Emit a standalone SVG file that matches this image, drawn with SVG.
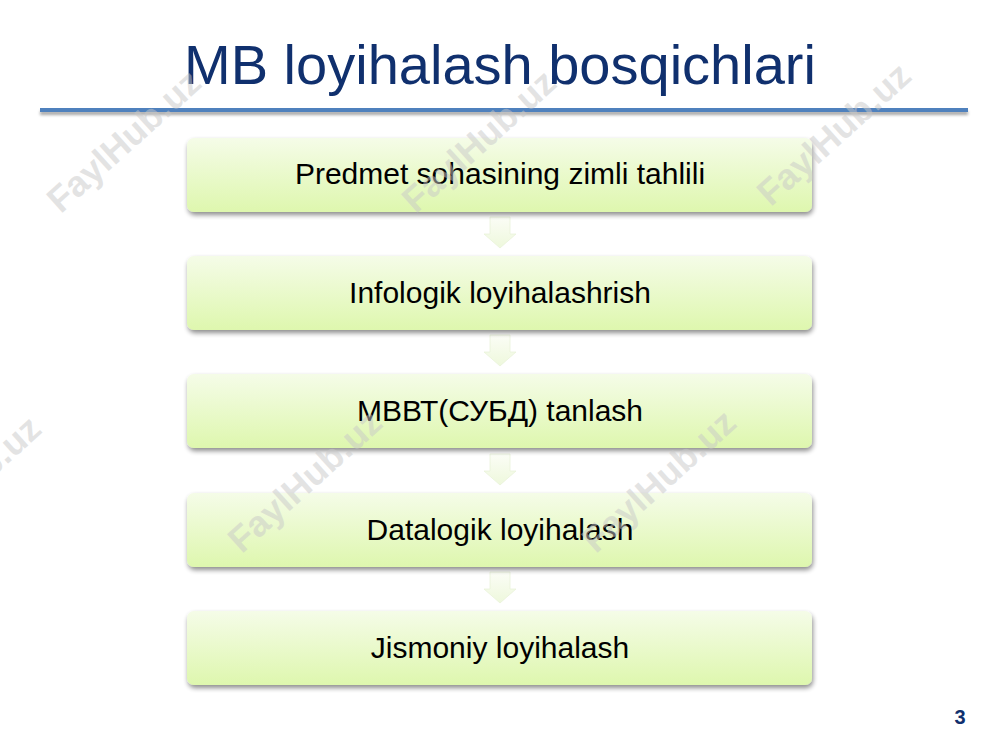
<svg xmlns="http://www.w3.org/2000/svg" width="1000" height="750" viewBox="0 0 1000 750">
  <defs>
    <linearGradient id="boxGrad" x1="0" y1="0" x2="0" y2="1">
      <stop offset="0" stop-color="#f5fce8"/>
      <stop offset="1" stop-color="#def7ae"/>
    </linearGradient>
    <linearGradient id="arrowGrad" x1="0" y1="0" x2="0" y2="1">
      <stop offset="0" stop-color="#fbfdf6"/>
      <stop offset="1" stop-color="#eef8dc"/>
    </linearGradient>
    <filter id="shadow" x="-10%" y="-20%" width="120%" height="150%">
      <feGaussianBlur in="SourceAlpha" stdDeviation="2.5"/>
      <feOffset dx="1" dy="3" result="b"/>
      <feComponentTransfer><feFuncA type="linear" slope="0.45"/></feComponentTransfer>
      <feMerge><feMergeNode/><feMergeNode in="SourceGraphic"/></feMerge>
    </filter>
    <filter id="lineShadow" x="-5%" y="-200%" width="110%" height="500%">
      <feGaussianBlur in="SourceAlpha" stdDeviation="1.5"/>
      <feOffset dx="0" dy="3"/>
      <feComponentTransfer><feFuncA type="linear" slope="0.35"/></feComponentTransfer>
      <feMerge><feMergeNode/><feMergeNode in="SourceGraphic"/></feMerge>
    </filter>
  </defs>
  <style>
    .box { fill: url(#boxGrad); filter: url(#shadow); }
    .label { font-family: "Liberation Sans", Arial, sans-serif; font-size: 30px; fill: #000; text-anchor: middle; }
    .arrow { fill: url(#arrowGrad); stroke: #e8f2d8; stroke-width: 0.75; }
    .wm { font-family: "Liberation Sans", Arial, sans-serif; font-weight: bold; font-size: 36px; fill: #c8c8c8; fill-opacity: 0.5; text-anchor: middle; }
    .title { font-family: "Liberation Sans", Arial, sans-serif; font-size: 56px; fill: #10306e; text-anchor: middle; }
  </style>
  <rect width="1000" height="750" fill="#ffffff"/>

  <g id="title">
    <text class="title" x="500" y="84">MB loyihalash bosqichlari</text>
    <rect x="40" y="108" width="928" height="4" fill="#4f81bd" filter="url(#lineShadow)"/>
  </g>

  <g id="connectors">
    <path class="arrow" d="M490,217 H510 V234 H516 L500,248 L484,234 H490 Z"/>
    <path class="arrow" d="M490,335 H510 V352 H516 L500,366 L484,352 H490 Z"/>
    <path class="arrow" d="M490,454 H510 V471 H516 L500,485 L484,471 H490 Z"/>
    <path class="arrow" d="M490,572 H510 V589 H516 L500,603 L484,589 H490 Z"/>
  </g>

  <g id="node1">
    <rect class="box" x="187" y="138" width="625" height="74" rx="7"/>
    <text class="label" x="500" y="184">Predmet sohasining zimli tahlili</text>
  </g>
  <g id="node2">
    <rect class="box" x="187" y="256" width="625" height="74" rx="7"/>
    <text class="label" x="500" y="303">Infologik loyihalashrish</text>
  </g>
  <g id="node3">
    <rect class="box" x="187" y="374" width="625" height="74" rx="7"/>
    <text class="label" x="500" y="421">МВВТ(СУБД) tanlash</text>
  </g>
  <g id="node4">
    <rect class="box" x="187" y="493" width="625" height="74" rx="7"/>
    <text class="label" x="500" y="540">Datalogik loyihalash</text>
  </g>
  <g id="node5">
    <rect class="box" x="187" y="611" width="625" height="74" rx="7"/>
    <text class="label" x="500" y="658">Jismoniy loyihalash</text>
  </g>

  <g id="watermarks">
    <text class="wm" transform="translate(132,150) rotate(-42)">FaylHub.uz</text>
    <text class="wm" transform="translate(487,150) rotate(-42)">FaylHub.uz</text>
    <text class="wm" transform="translate(842,143) rotate(-42)">FaylHub.uz</text>
    <text class="wm" transform="translate(-28,496) rotate(-42)">FaylHub.uz</text>
    <text class="wm" transform="translate(313,490) rotate(-42)">FaylHub.uz</text>
    <text class="wm" transform="translate(667,490) rotate(-42)">FaylHub.uz</text>
  </g>

  <text x="960" y="724" font-family="Liberation Sans, Arial, sans-serif" font-size="20" font-weight="bold" fill="#10306e" text-anchor="middle">3</text>
</svg>
